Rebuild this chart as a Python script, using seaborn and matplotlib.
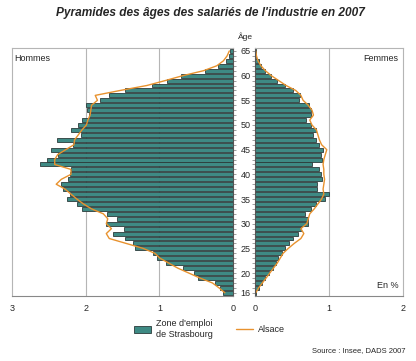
import matplotlib
matplotlib.use('Agg')
import matplotlib.pyplot as plt
import seaborn as sns
import pandas as pd
from matplotlib.ticker import MultipleLocator, FixedLocator

# ages 16 .. 65
ages = list(range(16, 66))

# Zone d'emploi de Strasbourg (%)
hommes_strasbourg = [0.13, 0.18, 0.24, 0.48, 0.53, 0.68, 0.91, 1.03, 1.08, 1.33,
                     1.36, 1.46, 1.63, 1.48, 1.72, 1.57, 1.71, 2.05, 2.12, 2.25,
                     2.21, 2.31, 2.34, 2.24, 2.21, 2.20, 2.62, 2.53, 2.38, 2.47,
                     2.17, 2.39, 2.07, 2.20, 2.10, 2.05, 1.96, 1.98, 2.00, 1.80,
                     1.68, 1.46, 1.10, 0.90, 0.71, 0.38, 0.21, 0.10, 0.06, 0.04]
femmes_strasbourg = [0.02, 0.05, 0.09, 0.14, 0.19, 0.24, 0.28, 0.31, 0.36, 0.41,
                     0.46, 0.52, 0.58, 0.62, 0.71, 0.72, 0.68, 0.76, 0.82, 0.94,
                     1.00, 0.84, 0.84, 0.91, 0.89, 0.87, 0.77, 0.90, 0.89, 0.92,
                     0.86, 0.83, 0.78, 0.83, 0.75, 0.69, 0.75, 0.76, 0.73, 0.60,
                     0.61, 0.52, 0.40, 0.30, 0.22, 0.13, 0.08, 0.05, 0.02, 0.01]

# Alsace (%)
hommes_alsace = [0.11, 0.19, 0.28, 0.45, 0.60, 0.75, 0.87, 0.99, 1.06, 1.22,
                 1.45, 1.68, 1.72, 1.65, 1.72, 1.70, 1.76, 1.92, 2.03, 2.12,
                 2.20, 2.28, 2.40, 2.33, 2.20, 2.20, 2.42, 2.42, 2.38, 2.27,
                 2.16, 2.15, 2.10, 2.05, 1.99, 1.97, 1.94, 1.93, 1.92, 1.84,
                 1.87, 1.53, 1.17, 0.92, 0.68, 0.40, 0.22, 0.13, 0.08, 0.05]
femmes_alsace = [0.01, 0.05, 0.10, 0.15, 0.20, 0.25, 0.30, 0.34, 0.38, 0.45,
                 0.53, 0.62, 0.66, 0.62, 0.70, 0.72, 0.74, 0.80, 0.85, 0.90,
                 0.93, 0.92, 0.93, 0.94, 0.93, 0.93, 0.92, 0.93, 0.95, 0.97,
                 0.90, 0.87, 0.85, 0.83, 0.77, 0.74, 0.79, 0.77, 0.72, 0.65,
                 0.62, 0.55, 0.42, 0.32, 0.22, 0.14, 0.08, 0.04, 0.02, 0.01]

age_ticks = [16, 20, 25, 30, 35, 40, 45, 50, 55, 60, 65]

df = pd.DataFrame({
    'age': ages,
    'h_zone': hommes_strasbourg,
    'f_zone': femmes_strasbourg,
    'h_alsace': hommes_alsace,
    'f_alsace': femmes_alsace,
})

sns.set_style('white')
plt.rcParams['font.family'] = ['Liberation Sans', 'DejaVu Sans']

bar_color = '#3e8a84'
edge_color = '#2b3b3a'
line_color = '#e8922e'
grid_color = '#b5b5b5'

W, H = 416, 361
fig = plt.figure(figsize=(W / 100, H / 100), dpi=100)
top, bottom = 48, 296
axL = fig.add_axes([12 / W, (H - bottom) / H, (233 - 12) / W, (bottom - top) / H])
axR = fig.add_axes([255 / W, (H - bottom) / H, (403 - 255) / W, (bottom - top) / H])

for ax, bcol, lcol in [(axL, 'h_zone', 'h_alsace'), (axR, 'f_zone', 'f_alsace')]:
    sns.barplot(data=df, x=bcol, y='age', orient='h', native_scale=True,
                color=bar_color, saturation=1, edgecolor=edge_color,
                linewidth=0.6, width=0.8, ax=ax, label="Zone d'emploi\nde Strasbourg")
    sns.lineplot(data=df, x=lcol, y='age', orient='y', sort=False, estimator=None,
                 color=line_color, linewidth=1.0, ax=ax, label='Alsace')
    ax.set_ylim(15.35, 65.6)
    ax.set_xlabel('')
    ax.set_ylabel('')
    if ax.get_legend():
        ax.get_legend().remove()
    ax.yaxis.set_major_locator(FixedLocator(age_ticks))
    ax.yaxis.set_minor_locator(MultipleLocator(1))
    ax.tick_params(axis='x', length=2, width=0.6, color='#666666', labelsize=6.5, pad=4)
    ax.tick_params(axis='y', which='both', length=2.5, width=0.5, color='#777777',
                   labelsize=6.5, pad=2)
    ax.set_axisbelow(True)
    for s in ax.spines.values():
        s.set_color(grid_color)
        s.set_linewidth(0.8)

axL.set_xlim(3, 0)
axL.set_xticks([3, 2, 1, 0])
axL.yaxis.tick_right()
axL.tick_params(axis='y', which='both', left=False, right=True, labelleft=False,
                labelright=True, pad=3)
axL.spines['right'].set_color('#555555')
axL.spines['bottom'].set_color('#888888')
for v in [1, 2]:
    axL.axvline(v, color=grid_color, linewidth=0.8, zorder=0)
axL.text(0.01, 0.975, 'Hommes', transform=axL.transAxes, fontsize=6.5,
         ha='left', va='top')

axR.set_xlim(0, 2)
axR.set_xticks([0, 1, 2])
axR.tick_params(axis='y', which='both', left=True, right=False, labelleft=False)
axR.spines['left'].set_color('#555555')
axR.spines['bottom'].set_color('#888888')
axR.axvline(1, color=grid_color, linewidth=0.8, zorder=0)
axR.text(0.97, 0.975, 'Femmes', transform=axR.transAxes, fontsize=6.5,
         ha='right', va='top')
axR.text(0.97, 0.025, 'En %', transform=axR.transAxes, fontsize=6.5,
         ha='right', va='bottom')

fig.text(210 / W, 1 - 13 / H, "Pyramides des âges des salariés de l'industrie en 2007",
         ha='center', va='center', fontsize=8.6, fontweight='bold', style='italic')
fig.text(245 / W, 1 - 37 / H, 'Âge', ha='center', va='center', fontsize=6)

# legend: bars first, then the Alsace line
handles, labels = axL.get_legend_handles_labels()
order = [labels.index("Zone d'emploi\nde Strasbourg"), labels.index('Alsace')]
fig.legend([handles[i] for i in order], [labels[i] for i in order],
           loc='center left', bbox_to_anchor=(126 / W, 1 - 329 / H),
           ncol=2, frameon=False, fontsize=6.5, handlelength=1.9, handleheight=0.7,
           columnspacing=2.6, handletextpad=0.5)

fig.text(405 / W, 1 - 351 / H, 'Source : Insee, DADS 2007', ha='right', va='center',
         fontsize=5.5)

fig.savefig('out.png', dpi=100)
plt.close(fig)
